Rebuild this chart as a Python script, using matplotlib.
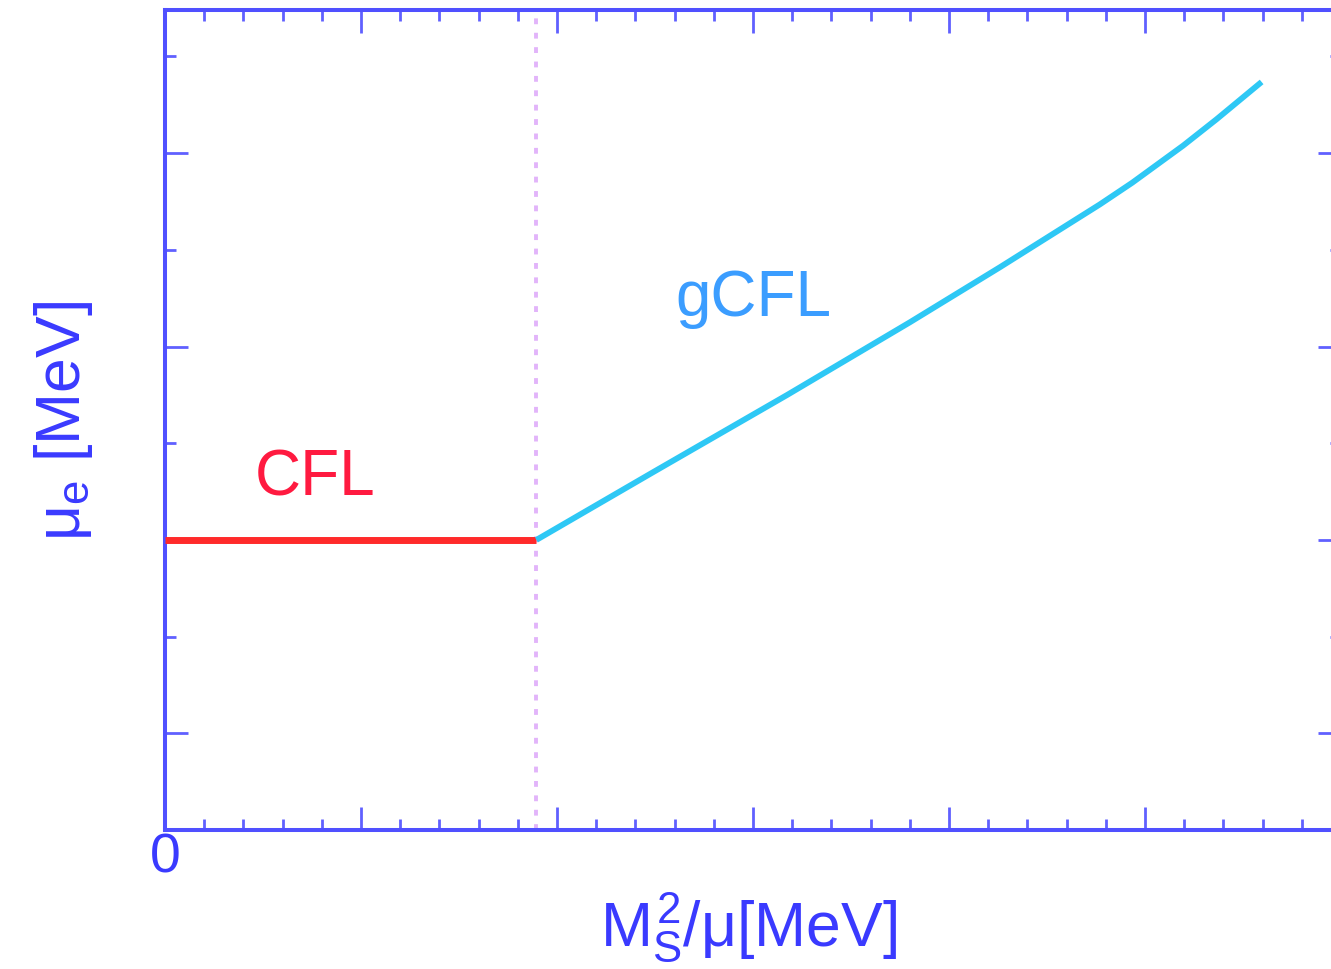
import matplotlib
matplotlib.use("Agg")
import matplotlib.pyplot as plt
from matplotlib.ticker import MultipleLocator, FixedLocator

plt.rcParams['font.family'] = ['Liberation Sans', 'DejaVu Sans']
plt.rcParams['mathtext.fontset'] = 'custom'
plt.rcParams['mathtext.rm'] = 'Liberation Sans'
plt.rcParams['mathtext.it'] = 'Liberation Sans'
plt.rcParams['mathtext.bf'] = 'Liberation Sans:bold'

# ---- data ----
x_transition = 37.9
cfl_x = [0.0, 37.9]
cfl_y = [20.0, 20.0]
gcfl_x = [37.9, 43.1, 49.8, 63.5, 76.0, 85.2, 95.4, 98.7, 103.9, 107.3, 111.9]
gcfl_y = [20.0, 21.53, 23.5, 27.5, 31.25, 34.1, 37.35, 38.47, 40.39, 41.75, 43.68]
x_major_ticks = [0, 20, 40, 60, 80, 100, 120]
x_tick_labels = ["0", "", "", "", "", "", ""]
y_major_ticks = [10, 20, 30, 40]
y_minor_ticks = [5, 15, 25, 35, 45]
region_labels = ["CFL", "gCFL"]

W, H = 1331, 969
fig = plt.figure(figsize=(W / 100, H / 100), dpi=100)
left, right, top, bottom = 165, 1341, 10, 830
ax = fig.add_axes([left / W, (H - bottom) / H, (right - left) / W, (bottom - top) / H])

spine_c = '#5050ff'
text_c = '#3a3aff'

ax.set_xlim(0, 120)
ax.set_ylim(5, 47.4)

ax.plot(cfl_x, cfl_y, color='#ff2a2a', lw=5.0, solid_capstyle='butt', zorder=3)
ax.plot(gcfl_x, gcfl_y, color='#2ec8f5', lw=4.2, solid_capstyle='butt',
        solid_joinstyle='round', zorder=3)
ax.axvline(x_transition, color='#e2b4fa', lw=2.8, linestyle=(0, (1.5, 2.2)), zorder=2)

ax.text(9.2, 22.3, region_labels[0], color='#ff1a40', fontsize=46, ha='left', va='baseline')
ax.text(52.1, 31.6, region_labels[1], color='#3b9dff', fontsize=46, ha='left', va='baseline')

for s in ax.spines.values():
    s.set_color(spine_c)
    s.set_linewidth(2.9)

ax.xaxis.set_major_locator(FixedLocator(x_major_ticks))
ax.xaxis.set_minor_locator(MultipleLocator(4))
ax.set_xticklabels(x_tick_labels)
ax.yaxis.set_major_locator(FixedLocator(y_major_ticks))
ax.yaxis.set_minor_locator(FixedLocator(y_minor_ticks))
ax.set_yticklabels([])

ax.tick_params(which='both', direction='in', top=True, right=True, color='#6060ff', width=2.0)
ax.tick_params(which='major', length=16.5)
ax.tick_params(which='minor', length=8)
ax.tick_params(axis='x', which='major', labelsize=40, labelcolor=text_c, pad=2)

fig.text(749 / W, (H - 946) / H, r'$M_S^2/\mu$[MeV]', color=text_c, fontsize=45,
         ha='center', va='baseline')
fig.text(80 / W, (H - 421) / H, r'$\mu_e$ [MeV]', color=text_c, fontsize=45,
         ha='center', va='baseline', rotation=90, rotation_mode='anchor')

fig.savefig('out.png', dpi=100)
